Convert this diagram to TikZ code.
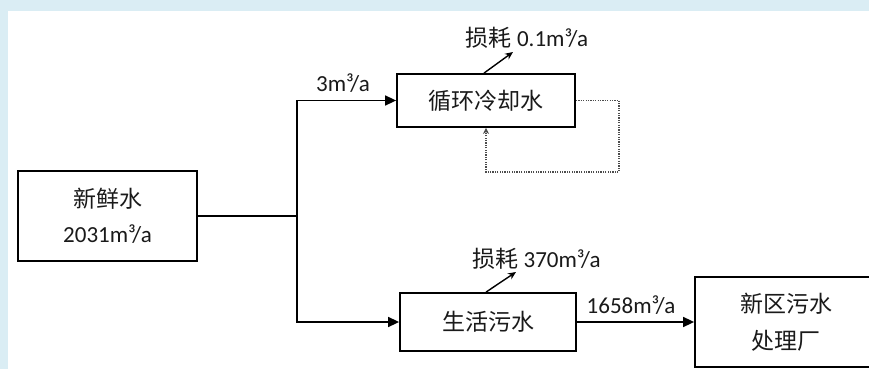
\documentclass[tikz,border=0pt]{standalone}
\usepackage{fontspec}
\setmainfont{Carlito}
\newfontfamily\cjk{Noto Sans CJK SC}
\usetikzlibrary{arrows.meta,calc}
\definecolor{bgblue}{HTML}{DAEDF4}
\definecolor{ink}{HTML}{1A1A1A}
\begin{document}
\begin{tikzpicture}[x=1pt,y=-1pt,
  box/.style={draw=black, line width=1.8pt, fill=white, inner sep=0pt, text=ink, align=center, font=\fontsize{23}{35}\selectfont},
  lbl/.style={inner sep=0pt, text=ink, font=\fontsize{23}{28}\selectfont},
  flow/.style={line width=1.6pt, -{Triangle[length=11pt,width=10pt]}},
  wire/.style={line width=1.6pt},
  fbloop/.style={draw=black!70, line width=1.6pt, dash pattern=on 1.2pt off 1.2pt, -{Stealth[length=6pt,width=6pt]}},
  lossarr/.style={line width=1.4pt, -{Stealth[length=8pt,width=7pt]}}
]
\useasboundingbox (0,0) rectangle (869,369);
\fill[bgblue] (0,0) rectangle (869,369);
\fill[white] (8,11) rectangle (869,369);

\node[box, minimum width=179pt, minimum height=90pt] (fresh) at (107.5,216) {{\cjk 新鲜水}\\2031m³/a};
\node[box, minimum width=178pt, minimum height=53pt] (cool) at (486,100.5) {\cjk 循环冷却水};
\node[box, minimum width=176pt, minimum height=58pt] (live) at (488,322) {\cjk 生活污水};
\node[box, minimum width=182pt, minimum height=90pt, font=\fontsize{23}{37}\selectfont] (treat) at (786,322) {\cjk 新区污水\\\cjk 处理厂};

\node[lbl] (l3) at (343,83) {3m³/a};
\node[lbl] (loss1) at (527,38) {{\cjk 损耗} 0.1m³/a};
\node[lbl] (loss2) at (536.5,259) {{\cjk 损耗} 370m³/a};
\node[lbl] (l1658) at (631,305) {1658m³/a};

\coordinate (j) at (297,216);
\coordinate (e1) at (513,52);
\coordinate (e2) at (516,272);
\coordinate (rt) at (619,172);

\draw[wire] (fresh.east) -- (j);
\draw[flow] (j) |- (cool.west);
\draw[flow] (j) |- (live.west);
\draw[flow] (live.east) -- (treat.west);
\draw[lossarr] ($(cool.north)+(-2,0)$) -- (e1);
\draw[lossarr] ($(live.north)+(-2,0)$) -- (e2);
\draw[fbloop] (cool.east) -| (rt) -| (cool.south);
\end{tikzpicture}
\end{document}
